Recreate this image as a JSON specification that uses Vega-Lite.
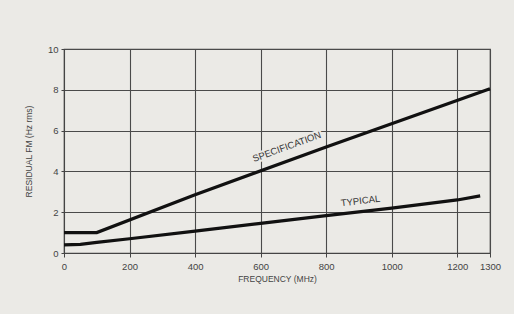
{
  "$schema": "https://vega.github.io/schema/vega-lite/v6.json",
  "autosize": {"type": "none"},
  "width": 426,
  "height": 204,
  "padding": {"left": 64, "top": 49, "right": 24, "bottom": 61},
  "background": "#ebeae6",
  "config": {
    "view": {"stroke": "#444", "strokeWidth": 1.2},
    "font": "Liberation Sans",
    "axis": {"labelColor": "#444", "titleColor": "#444", "labelFontSize": 9.5, "titleFontSize": 8.5, "titleFontWeight": "normal", "gridColor": "#4a4a4a", "gridOpacity": 1, "gridWidth": 1.1, "domainColor": "#444", "tickColor": "#444", "labelOverlap": false, "labelFlush": false, "labelBound": false}
  },
  "datasets": {
    "curves": [
      {"f": 0, "fm": 1.0, "curve": "SPECIFICATION"},
      {"f": 100, "fm": 1.0, "curve": "SPECIFICATION"},
      {"f": 400, "fm": 2.85, "curve": "SPECIFICATION"},
      {"f": 800, "fm": 5.2, "curve": "SPECIFICATION"},
      {"f": 1300, "fm": 8.05, "curve": "SPECIFICATION"},
      {"f": 0, "fm": 0.4, "curve": "TYPICAL"},
      {"f": 50, "fm": 0.42, "curve": "TYPICAL"},
      {"f": 100, "fm": 0.52, "curve": "TYPICAL"},
      {"f": 200, "fm": 0.7, "curve": "TYPICAL"},
      {"f": 400, "fm": 1.07, "curve": "TYPICAL"},
      {"f": 600, "fm": 1.45, "curve": "TYPICAL"},
      {"f": 800, "fm": 1.83, "curve": "TYPICAL"},
      {"f": 1000, "fm": 2.2, "curve": "TYPICAL"},
      {"f": 1200, "fm": 2.6, "curve": "TYPICAL"},
      {"f": 1270, "fm": 2.8, "curve": "TYPICAL"}
    ],
    "labels": [
      {"f": 680, "fm": 5.2, "text": "SPECIFICATION", "angle": -20},
      {"f": 905, "fm": 2.55, "text": "TYPICAL", "angle": -7}
    ]
  },
  "layer": [
    {
      "data": {"name": "curves"},
      "mark": {"type": "line", "color": "#111", "strokeWidth": 3.2},
      "encoding": {
        "x": {"field": "f", "type": "quantitative", "scale": {"domain": [0, 1300], "nice": false},
              "axis": {"values": [0, 200, 400, 600, 800, 1000, 1200, 1300], "format": "d", "title": "FREQUENCY (MHz)", "titlePadding": 4, "tickSize": 4, "labelPadding": 4, "domain": true}},
        "y": {"field": "fm", "type": "quantitative", "scale": {"domain": [0, 10], "nice": false},
              "axis": {"values": [0, 2, 4, 6, 8, 10], "format": "d", "title": "RESIDUAL FM (Hz rms)", "titlePadding": 14, "tickSize": 3, "labelPadding": 3}},
        "detail": {"field": "curve"}
      }
    },
    {
      "data": {"name": "labels"},
      "mark": {"type": "text", "fontSize": 9.5, "color": "#ebeae6", "stroke": "#ebeae6", "strokeWidth": 4},
      "encoding": {
        "x": {"field": "f", "type": "quantitative"},
        "y": {"field": "fm", "type": "quantitative"},
        "text": {"field": "text"},
        "angle": {"field": "angle", "type": "quantitative", "scale": null}
      }
    },
    {
      "data": {"name": "labels"},
      "mark": {"type": "text", "fontSize": 9.5, "color": "#333"},
      "encoding": {
        "x": {"field": "f", "type": "quantitative"},
        "y": {"field": "fm", "type": "quantitative"},
        "text": {"field": "text"},
        "angle": {"field": "angle", "type": "quantitative", "scale": null}
      }
    }
  ]
}
